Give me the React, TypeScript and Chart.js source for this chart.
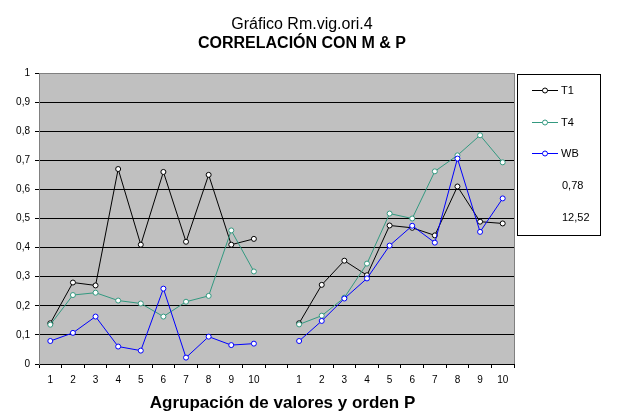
import React, { useEffect, useRef } from "react";
import { Chart, registerables } from "chart.js";

Chart.register(...registerables);

const categories = ["1", "2", "3", "4", "5", "6", "7", "8", "9", "10", "", "1", "2", "3", "4", "5", "6", "7", "8", "9", "10"];

const t1GroupA = [0.14, 0.28, 0.27, 0.67, 0.41, 0.66, 0.42, 0.65, 0.41, 0.43];
const t1GroupB = [0.14, 0.272, 0.355, 0.305, 0.476, 0.468, 0.442, 0.61, 0.489, 0.483];
const t4GroupA = [0.135, 0.237, 0.245, 0.218, 0.208, 0.163, 0.214, 0.234, 0.459, 0.318];
const t4GroupB = [0.136, 0.166, 0.228, 0.345, 0.517, 0.5, 0.662, 0.717, 0.786, 0.693];
const wbGroupA = [0.079, 0.107, 0.163, 0.06, 0.046, 0.259, 0.022, 0.094, 0.065, 0.07];
const wbGroupB = [0.079, 0.148, 0.225, 0.294, 0.407, 0.475, 0.417, 0.706, 0.454, 0.569];

const seriesNames = ["T1", "T4", "WB"];
const legendExtraLabels = ["0,78", "12,52"];
const titleLine1 = "Gráfico Rm.vig.ori.4";
const titleLine2 = "CORRELACIÓN CON M & P";
const xAxisTitle = "Agrupación de valores y orden P";

const FONT = "'Liberation Sans', Arial, sans-serif";
const COLORS = ["#000000", "#339980", "#0000FF"];

const plotBg = {
  id: "plotBg",
  beforeDraw(chart: any) {
    const { ctx, chartArea } = chart;
    ctx.save();
    ctx.fillStyle = "#C0C0C0";
    ctx.fillRect(chartArea.left, chartArea.top, chartArea.right - chartArea.left, chartArea.bottom - chartArea.top);
    ctx.restore();
  },
  afterDatasetsDraw(chart: any) {
    const { ctx, chartArea } = chart;
    ctx.save();
    ctx.strokeStyle = "#808080";
    ctx.lineWidth = 1;
    ctx.beginPath();
    ctx.moveTo(Math.round(chartArea.right) + 0.5, chartArea.top);
    ctx.lineTo(Math.round(chartArea.right) + 0.5, chartArea.bottom);
    ctx.stroke();
    ctx.restore();
  },
};

const titles = {
  id: "titles",
  afterDraw(chart: any) {
    const { ctx, chartArea } = chart;
    ctx.save();
    ctx.fillStyle = "#000";
    ctx.textAlign = "center";
    ctx.textBaseline = "alphabetic";
    ctx.font = `16px ${FONT}`;
    ctx.fillText(titleLine1, 302, 29);
    ctx.font = `bold 16px ${FONT}`;
    ctx.fillText(titleLine2, 302, 48);
    ctx.font = `bold 17px ${FONT}`;
    ctx.fillText(xAxisTitle, (chartArea.left + chartArea.right) / 2 + 6, 408);
    ctx.restore();
  },
};

const customLegend = {
  id: "customLegend",
  afterDraw(chart: any) {
    const { ctx, chartArea } = chart;
    const left = Math.round(chartArea.right) + 3;
    const top = Math.round(chartArea.top) + 1;
    const w = 83;
    const h = 161;
    ctx.save();
    ctx.strokeStyle = "#000";
    ctx.lineWidth = 1;
    ctx.strokeRect(left + 0.5, top + 0.5, w, h);
    ctx.font = `11px ${FONT}`;
    ctx.textBaseline = "middle";
    ctx.textAlign = "left";
    const rowGap = 31.7;
    const items = chart.data.datasets.map((d: any) => ({ label: d.label, color: d.borderColor }));
    items.forEach((it: any, i: number) => {
      const y = Math.round(top + 16 + i * rowGap) + 0.5;
      ctx.strokeStyle = it.color;
      ctx.beginPath();
      ctx.moveTo(left + 15, y);
      ctx.lineTo(left + 41, y);
      ctx.stroke();
      ctx.fillStyle = "#fff";
      ctx.beginPath();
      ctx.arc(left + 28, y, 2.5, 0, Math.PI * 2);
      ctx.fill();
      ctx.stroke();
      ctx.fillStyle = "#000";
      ctx.fillText(it.label, left + 44, y);
    });
    legendExtraLabels.forEach((txt, j) => {
      const y = Math.round(top + 16 + (items.length + j) * rowGap) + 0.5;
      ctx.fillStyle = "#000";
      ctx.fillText(txt, left + 45, y);
    });
    ctx.restore();
  },
};

export default function App() {
  const ref = useRef<HTMLCanvasElement | null>(null);
  useEffect(() => {
    if (!ref.current) return;
    const series = [
      [...t1GroupA, null, ...t1GroupB],
      [...t4GroupA, null, ...t4GroupB],
      [...wbGroupA, null, ...wbGroupB],
    ];
    const chart = new Chart(ref.current, {
      type: "line",
      data: {
        labels: categories,
        datasets: series.map((data, i) => ({
          label: seriesNames[i],
          data,
          borderColor: COLORS[i],
          backgroundColor: "#FFFFFF",
          pointBackgroundColor: "#FFFFFF",
          pointBorderColor: COLORS[i],
          pointRadius: 2.5,
          pointBorderWidth: 1,
          borderWidth: 1,
          tension: 0,
          spanGaps: false,
          order: 2 - i,
        })),
      },
      options: {
        animation: false,
        responsive: false,
        devicePixelRatio: 1,
        layout: { padding: { left: 0, right: 106, top: 73, bottom: 0 } },
        plugins: {
          legend: { display: false },
          tooltip: { enabled: false },
          title: { display: false },
        },
        scales: {
          x: {
            type: "category",
            offset: true,
            grid: {
              offset: true,
              drawOnChartArea: false,
              drawTicks: true,
              tickLength: 4,
              color: "#000",
            },
            border: { color: "#000" },
            ticks: {
              autoSkip: false,
              maxRotation: 0,
              color: "#000",
              padding: 6,
              font: { family: FONT, size: 10 },
            },
            afterFit(scale: any) {
              scale.height = 56;
            },
          },
          y: {
            min: 0,
            max: 1,
            ticks: {
              stepSize: 0.1,
              color: "#000",
              padding: 5,
              font: { family: FONT, size: 10 },
              callback: (v: any) => {
                const n = Number(v);
                if (Math.abs(n) < 1e-9) return "0";
                if (Math.abs(n - 1) < 1e-9) return "1";
                return n.toFixed(1).replace(".", ",");
              },
            },
            grid: {
              color: (c: any) => (c.tick && Math.abs(c.tick.value - 1) < 1e-9 ? "#808080" : "#000"),
              tickColor: "#000",
              tickLength: 4,
            },
            border: { color: "#808080" },
            afterFit(scale: any) {
              scale.width = 39;
            },
          },
        },
      },
      plugins: [plotBg, titles, customLegend],
    } as any);
    return () => chart.destroy();
  }, []);
  return (
    <div style={{ position: "absolute", left: 0, top: 0, width: 620, height: 420 }}>
      <canvas ref={ref} width={620} height={420} />
    </div>
  );
}
